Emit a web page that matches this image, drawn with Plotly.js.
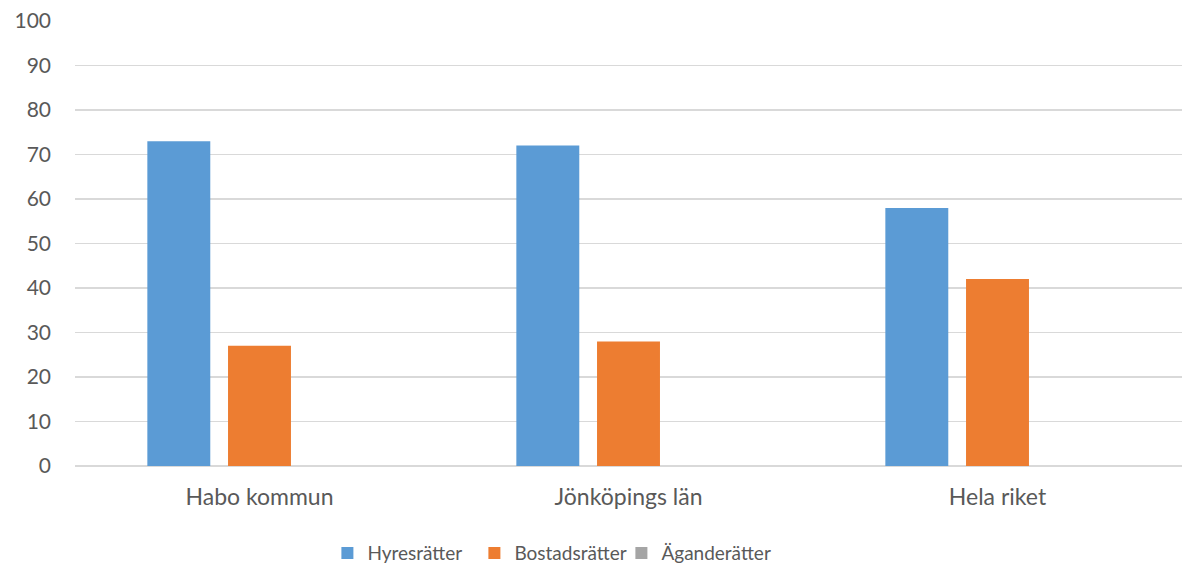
<!DOCTYPE html>
<html>
<head>
<meta charset="utf-8">
<script src="https://cdn.plot.ly/plotly-3.0.1.min.js"></script>
<style>html,body{margin:0;padding:0;background:#fff;}#chart{width:1182px;height:566px;}</style>
</head>
<body>
<div id="chart"></div>
<script>
const categories = ["Habo kommun", "Jönköpings län", "Hela riket"];
const hyresratter = [73, 72, 58];
const bostadsratter = [27, 28, 42];
const aganderatter = [0, 0, 0];
const seriesNames = ["Hyresrätter", "Bostadsrätter", "Äganderätter"];
const yTicks = [0, 10, 20, 30, 40, 50, 60, 70, 80, 90, 100];

const colors = ["#5B9BD5", "#ED7D31", "#A5A5A5"];
const seriesValues = [hyresratter, bostadsratter, aganderatter];

const traces = seriesValues.map((vals, i) => ({
  type: "bar",
  name: seriesNames[i],
  x: categories,
  y: vals,
  marker: {color: colors[i], line: {width: 0}},
  legendwidth: i === 2 ? 130 : 102,
  hoverinfo: "x+y+name"
}));

const layout = {
  width: 1182, height: 566,
  margin: {l: 75, r: 0, t: 21, b: 100, pad: 0, autoexpand: false},
  paper_bgcolor: "#ffffff", plot_bgcolor: "#ffffff",
  font: {family: "Lato, sans-serif", color: "#595959"},
  barmode: "group",
  bargap: 0.344,
  bargroupgap: 0.22,
  showlegend: true,
  legend: {
    orientation: "h",
    x: 0.228, xanchor: "left",
    y: -0.196, yanchor: "middle",
    font: {size: 19, color: "#595959"},
    entrywidthmode: "pixels",
    bgcolor: "rgba(0,0,0,0)",
    traceorder: "normal"
  },
  xaxis: {
    type: "category",
    showgrid: false,
    showline: false,
    zeroline: false,
    ticks: "",
    tickfont: {size: 23, color: "#595959"},
    ticklabelstandoff: 15
  },
  yaxis: {
    range: [0, 100],
    tickvals: yTicks,
    ticktext: yTicks.map(String),
    showgrid: true,
    gridcolor: "#D9D9D9",
    gridwidth: 1.5,
    zeroline: true,
    zerolinecolor: "#D9D9D9",
    zerolinewidth: 1.5,
    showline: false,
    ticks: "",
    tickfont: {size: 21, color: "#595959"},
    ticklabelstandoff: 23
  }
};

Plotly.newPlot("chart", traces, layout, {displayModeBar: false, staticPlot: true});
</script>
</body>
</html>
